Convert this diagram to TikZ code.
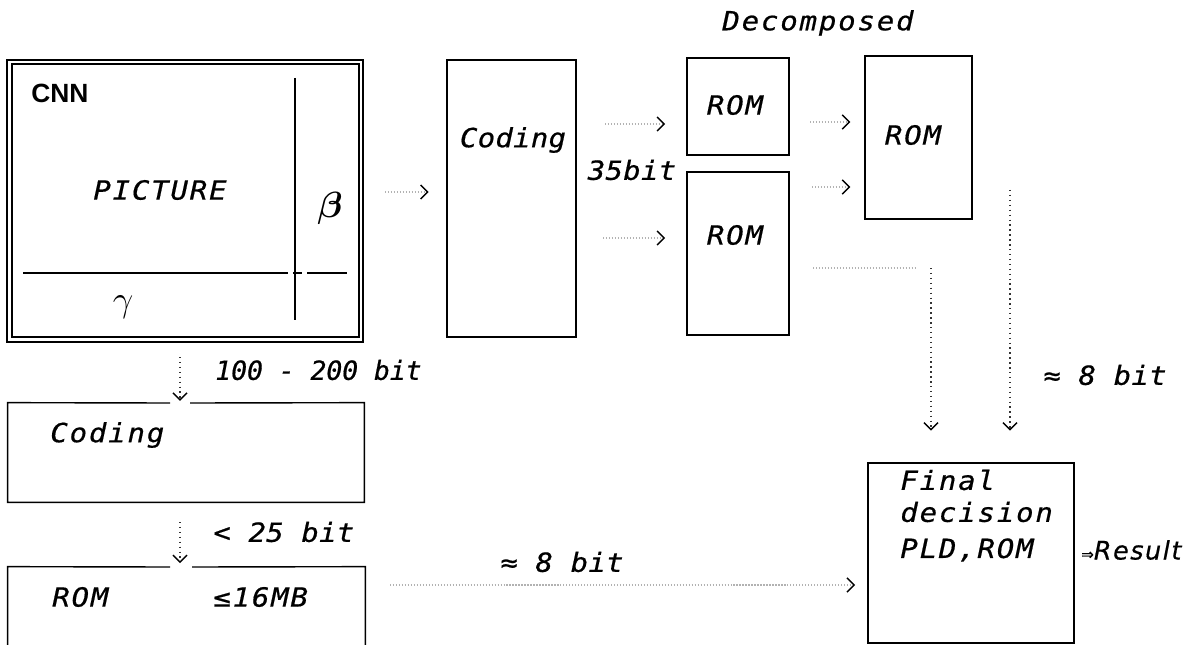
\documentclass[tikz,border=0pt]{standalone}
\usepackage{amsmath}
\usepackage{fontspec}
\usetikzlibrary{arrows.meta,fit}
\newfontfamily\twA{DejaVu Sans Mono}[FakeStretch=1.1,FakeBold=0.6,LetterSpace=7]
\newfontfamily\twB{DejaVu Sans Mono}[FakeStretch=1.1,FakeBold=0.6,LetterSpace=1]
\newfontfamily\twC{DejaVu Sans Mono}[FakeStretch=1.0,FakeBold=0.6,LetterSpace=0]
\newfontfamily\resfont{DejaVu Sans}[FakeBold=0.5,LetterSpace=6]
\newfontfamily\cnnfont{Liberation Sans}
\begin{document}
\begin{tikzpicture}[x=0.02cm,y=-0.02cm,
  box/.style={draw, line width=0.8pt, inner sep=0pt, rectangle},
  nobox/.style={inner sep=0pt, rectangle},
  edge/.style={line width=0.8pt},
  txA/.style={font=\twA\itshape\fontsize{15}{17}\selectfont, inner sep=0pt},
  txB/.style={font=\twB\itshape\fontsize{15}{17}\selectfont, inner sep=0pt},
  txC/.style={font=\twC\itshape\fontsize{15}{17}\selectfont, inner sep=0pt},
  tip/.style={-{Straight Barb[length=4pt,width=8pt,line width=0.8pt,color=black]}},
  conn/.style={tip, gray!60, densely dotted, line width=0.7pt},
  vconn/.style={tip, black!80, dotted, line width=0.8pt}]
\clip (0,0) rectangle (1199,645);
\fill[white] (0,0) rectangle (1199,645);

% CNN picture box
\node[box, line width=1.3pt, fit={(7,60) (363,342)}] (cnn) {};
\node[box, line width=0.6pt, fit={(12,64) (359,337)}] (cnnin) {};
\draw[line width=0.7pt] (295,78) -- (295,320);
\draw[line width=0.9pt] (23,273) -- (288,273) (293,273) -- (302,273) (307,273) -- (347,273);
\node[font=\cnnfont\bfseries\fontsize{15}{17}\selectfont, inner sep=0pt, anchor=west] (cnnlbl) at (31,93) {CNN};
\node[txA] (pic) at (160,190) {PICTURE};
\node[font=\fontsize{20}{22}\selectfont, inner sep=0pt] (beta) at (330,208) {$\boldsymbol{\beta}$};
\node[font=\fontsize{20}{22}\selectfont, inner sep=0pt] (gamma) at (123,307) {$\gamma$};

% Coding (big)
\node[box, fit={(447,60) (576,337)}] (cod1) {};
\node[txB] (cod1lbl) at (513,140) {Coding};

% ROMs
\node[box, fit={(687,58) (789,155)}] (rom1) {};
\node[txA] (rom1lbl) at (735,105) {ROM};
\node[box, fit={(687,172) (789,335)}] (rom2) {};
\node[txA] (rom2lbl) at (735,235) {ROM};
\node[box, fit={(865,56) (972,219)}] (rom3) {};
\node[txA] (rom3lbl) at (913,135) {ROM};
\node[txB] (b35) at (632,170) {35bit};
\node[txA] (decomp) at (818,23) {Decomposed};

% Coding (small) and ROM (bottom left)
\node[nobox, fit={(8,403) (364,502)}] (cod2) {};
\draw[edge] (170,403) -- (cod2.north west) -- (cod2.south west) -- (cod2.south east) -- (cod2.north east) -- (190,403);
\node[txA, anchor=west] (cod2lbl) at (50,435) {Coding};
\node[nobox, fit={(8,567) (365,665)}] (rom4) {};
\draw[edge] (170,567) -- (rom4.north west) -- (rom4.south west) -- (rom4.south east) -- (rom4.north east) -- (192,567);
\node[txA, anchor=west] (rom4lbl) at (52,597) {ROM};
\node[txA, anchor=west] (rom4sz) at (213,597) {≤16MB};
\node[txC, anchor=west] (b100) at (215,370) {100 - 200 bit};
\node[txB, anchor=west] (b25) at (213,532) {< 25 bit};
\node[txB, anchor=west] (b8a) at (500,562) {≈ 8 bit};
\node[txB] (b8b) at (1105,375) {≈ 8 bit};

% Final decision
\node[box, fit={(868,463) (1074,643)}] (final) {};
\node[txA, anchor=west] (fin1) at (900,480) {Final};
\node[txA, anchor=west] (fin2) at (900,512) {decision};
\node[txA, anchor=west] (fin3) at (900,550) {PLD,ROM};
\node[font=\resfont\itshape\fontsize{14.5}{16}\selectfont, inner sep=0pt, anchor=west] (res) at (1081,550) {{\fontsize{8.5}{10}\selectfont ⇒}Result};

% connectors
\coordinate (a1) at (385,192);
\draw[conn, shorten >=10] (a1) -- (cod1.west |- a1);
\coordinate (a2) at (605,124);
\draw[conn, shorten >=12] (a2) -- (rom1.west |- a2);
\coordinate (a3) at (603,238);
\draw[conn, shorten >=12] (a3) -- (rom2.west |- a3);
\coordinate (a4) at (810,122);
\draw[conn, shorten >=8] (a4) -- (rom3.west |- a4);
\coordinate (a5) at (812,187);
\draw[conn, shorten >=8] (a5) -- (rom3.west |- a5);
\coordinate (c6a) at (813,268);
\coordinate (c6b) at (931,268);
\draw[gray!60, densely dotted, line width=0.7pt] (c6a) -- (917,268);
\draw[vconn, shorten >=18] (c6b) -- (final.north -| c6b);
\coordinate (c7) at (1010,190);
\draw[vconn, shorten >=18] (c7) -- (final.north -| c7);
\coordinate (c8) at (180,357);
\draw[vconn, shorten >=1] (c8) -- (cod2.north -| c8);
\coordinate (c9) at (180,522);
\draw[vconn, shorten >=2] (c9) -- (rom4.north -| c9);
\coordinate (c10) at (390,585);
\draw[conn, shorten >=7] (c10) -- (final.west |- c10);
\end{tikzpicture}
\end{document}
